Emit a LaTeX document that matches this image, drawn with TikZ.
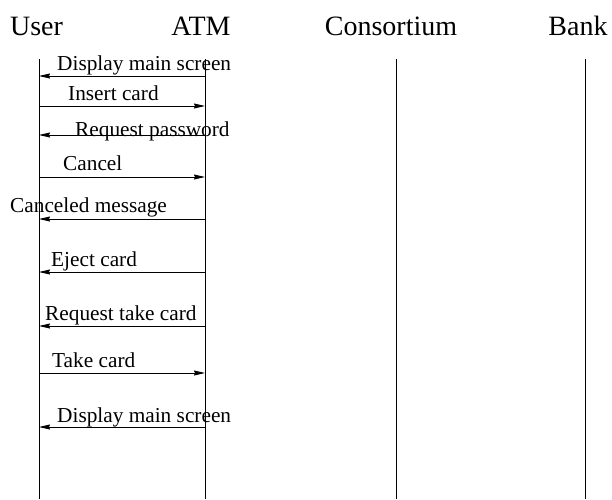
\documentclass[tikz,border=0pt]{standalone}
\usepackage{fontspec}
\setmainfont{Liberation Serif}
\usetikzlibrary{arrows.meta}
\begin{document}
\begin{tikzpicture}[x=1pt,y=-1pt,
  actor/.style={anchor=base,inner sep=0pt,font=\fontsize{28}{28}\selectfont},
  lifeline/.style={line width=0.9pt},
  msg/.style={line width=0.9pt,-{Stealth[length=11pt,width=5pt,inset=1pt]}},
  msglabel/.style={anchor=base west,inner sep=0pt,font=\fontsize{21.3}{21.3}\selectfont}]
\useasboundingbox (0,0) rectangle (612,499);

% participants
\node[actor] (user) at (36.5,35) {User};
\node[actor] (atm)  at (201,35) {ATM};
\node[actor] (cons) at (391,35) {Consortium};
\node[actor] (bank) at (578,35) {Bank};

% lifelines
\coordinate (ut) at (39,59);  \coordinate (ub) at (39,499);
\coordinate (at) at (205,59); \coordinate (ab) at (205,499);
\coordinate (ct) at (396,59); \coordinate (cb) at (396,499);
\coordinate (bt) at (585,59); \coordinate (bb) at (585,499);
\draw[lifeline] (ut) -- (ub);
\draw[lifeline] (at) -- (ab);
\draw[lifeline] (ct) -- (cb);
\draw[lifeline] (bt) -- (bb);

% message end points on the User and ATM lifelines
\foreach \i/\y in {1/76,2/106,3/135,4/177,5/219,6/272,7/326,8/373,9/427}{
  \coordinate (u\i) at (39,\y);
  \coordinate (a\i) at (205,\y);
}

% messages
\draw[msg] (a1) -- (u1);
\draw[msg] (u2) -- (a2);
\draw[msg] (a3) -- (u3);
\draw[msg] (u4) -- (a4);
\draw[msg] (a5) -- (u5);
\draw[msg] (a6) -- (u6);
\draw[msg] (a7) -- (u7);
\draw[msg] (u8) -- (a8);
\draw[msg] (a9) -- (u9);

% message labels
\node[msglabel] (m1) at (57,70)  {Display main screen};
\node[msglabel] (m2) at (68,100) {Insert card};
\node[msglabel] (m3) at (75,136) {Request password};
\node[msglabel] (m4) at (63,170) {Cancel};
\node[msglabel] (m5) at (10,212) {Canceled message};
\node[msglabel] (m6) at (51,266) {Eject card};
\node[msglabel] (m7) at (45,320) {Request take card};
\node[msglabel] (m8) at (52,367) {Take card};
\node[msglabel] (m9) at (57,422) {Display main screen};
\end{tikzpicture}
\end{document}
